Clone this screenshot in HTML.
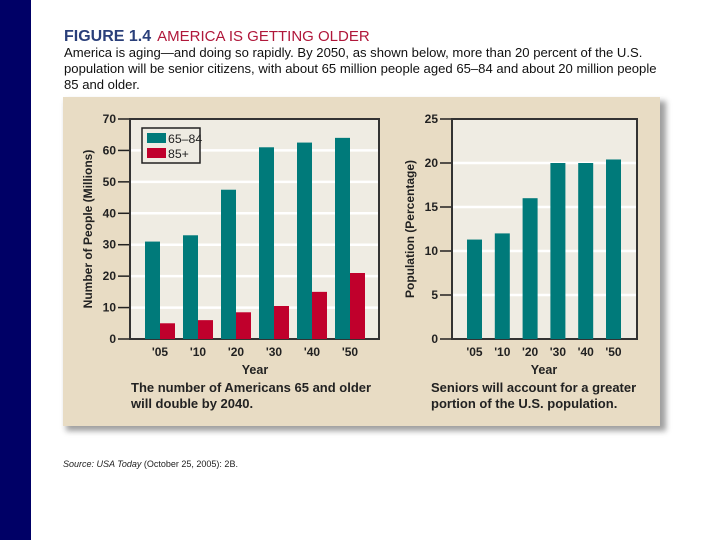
<!DOCTYPE html>
<html><head><meta charset="utf-8"><style>
body{margin:0;width:720px;height:540px;background:#fff;overflow:hidden;font-family:"Liberation Sans",sans-serif}
</style></head><body>
<svg width="720" height="540" viewBox="0 0 720 540" xmlns="http://www.w3.org/2000/svg" font-family="Liberation Sans, sans-serif">
<defs><filter id="sh" x="-5%" y="-5%" width="115%" height="120%"><feGaussianBlur stdDeviation="3"/></filter></defs>
<rect x="0" y="0" width="31" height="540" fill="#000066"/>
<text x="64" y="41" font-size="16" font-weight="bold"><tspan fill="#2a3f7a">FIGURE 1.4</tspan><tspan fill="#b0173a" font-weight="normal" dx="6" font-size="15">AMERICA IS GETTING OLDER</tspan></text>
<g font-size="13.1" fill="#111">
<text x="64" y="57">America is aging—and doing so rapidly. By 2050, as shown below, more than 20 percent of the U.S.</text>
<text x="64" y="73">population will be senior citizens, with about 65 million people aged 65–84 and about 20 million people</text>
<text x="64" y="89">85 and older.</text>
</g>
<rect x="66" y="101" width="600" height="330" fill="#777" filter="url(#sh)" opacity="0.7"/>
<rect x="63" y="97" width="597" height="329" fill="#e8dcc4"/>
<g id="left"></g>
<g id="right"></g>
<text x="63" y="467" font-size="9" fill="#222"><tspan font-style="italic">Source: USA Today</tspan> (October 25, 2005): 2B.</text>
</svg>
<script>
const years=["'05","'10","'20","'30","'40","'50"];
const age6584=[31,33,47.5,61,62.5,64];
const age85=[5,6,8.5,10.5,15,21];
const leftTicks=[0,10,20,30,40,50,60,70];
const pct=[11.3,12,16,20,20,20.4];
const rightTicks=[0,5,10,15,20,25];
const NS="http://www.w3.org/2000/svg";
function mk(p,t,a,txt){const e=document.createElementNS(NS,t);for(const k in a)e.setAttribute(k,a[k]);if(txt!==undefined)e.textContent=txt;p.appendChild(e);return e;}
function chart(g,x0,x1,yTop,yBot,max,ticks,label){
  const y=v=>yBot-(v/max)*(yBot-yTop);
  const bg=mk(g,'rect',{x:x0,y:yTop,width:x1-x0,height:yBot-yTop,fill:'#efece3'});
  
  
  ticks.forEach(t=>{
    if(t>0&&t<max){const gl=mk(g,'line',{x1:x0,x2:x1,y1:y(t),y2:y(t),stroke:'#fff','stroke-width':2.5});
    
    }
    const tk=mk(g,'line',{x1:x0-12,x2:x0,y1:y(t),y2:y(t),stroke:'#222','stroke-width':1.5});
    
    
    const tl=mk(g,'text',{x:x0-14,y:y(t)+4,'font-size':12,'font-weight':'bold','text-anchor':'end',fill:'#222'},String(t));
    
    
  });
  const fr=mk(g,'rect',{x:x0,y:yTop,width:x1-x0,height:yBot-yTop,fill:'none',stroke:'#333','stroke-width':2});
  
  
  const yl=mk(g,'text',{transform:`translate(${x0-38},${(yTop+yBot)/2}) rotate(-90)`,'font-size':12,'font-weight':'bold','text-anchor':'middle',fill:'#222'},label);
  
  
  return y;
}
const L=document.getElementById('left');
const yl=chart(L,130,379,119,339,70,leftTicks,'Number of People (Millions)');
years.forEach((yr,i)=>{
  const gx=145+i*38;
  const b1=mk(L,'rect',{x:gx,y:yl(age6584[i]),width:15,height:339-yl(age6584[i]),fill:'#007a7a'});
  
  
  const b2=mk(L,'rect',{x:gx+15,y:yl(age85[i]),width:15,height:339-yl(age85[i]),fill:'#c0002c'});
  
  
  const xl=mk(L,'text',{x:gx+15,y:356,'font-size':12,'font-weight':'bold','text-anchor':'middle',fill:'#222'},yr);
  
  
});
const lg=mk(L,'rect',{x:142,y:128,width:58,height:35,fill:'#efece3',stroke:'#222','stroke-width':1.5});


const s1=mk(L,'rect',{x:147,y:133,width:19,height:10,fill:'#007a7a'});


const s2=mk(L,'rect',{x:147,y:148,width:19,height:10,fill:'#c0002c'});


const t1=mk(L,'text',{x:168,y:143,'font-size':12.3,fill:'#222'},'65–84');


const t2=mk(L,'text',{x:168,y:158,'font-size':12.3,fill:'#222'},'85+');


const xa=mk(L,'text',{x:255,y:374,'font-size':12.5,'font-weight':'bold','text-anchor':'middle',fill:'#222'},'Year');


const c1=mk(L,'text',{x:131,y:392,'font-size':13,'font-weight':'bold',fill:'#222'},'The number of Americans 65 and older');


const c2=mk(L,'text',{x:131,y:408,'font-size':13,'font-weight':'bold',fill:'#222'},'will double by 2040.');



const R=document.getElementById('right');
const yr2=chart(R,452,637,119,339,25,rightTicks,'Population (Percentage)');
years.forEach((yr,i)=>{
  const gx=467+i*27.8;
  const b=mk(R,'rect',{x:gx,y:yr2(pct[i]),width:15,height:339-yr2(pct[i]),fill:'#007a7a'});
  
  
  const xl=mk(R,'text',{x:gx+7.5,y:356,'font-size':12,'font-weight':'bold','text-anchor':'middle',fill:'#222'},yr);
  
  
});
const xa2=mk(R,'text',{x:544,y:374,'font-size':12.5,'font-weight':'bold','text-anchor':'middle',fill:'#222'},'Year');


const d1=mk(R,'text',{x:431,y:392,'font-size':13,'font-weight':'bold',fill:'#222'},'Seniors will account for a greater');


const d2=mk(R,'text',{x:431,y:408,'font-size':13,'font-weight':'bold',fill:'#222'},'portion of the U.S. population.');


</script>
</body></html>
